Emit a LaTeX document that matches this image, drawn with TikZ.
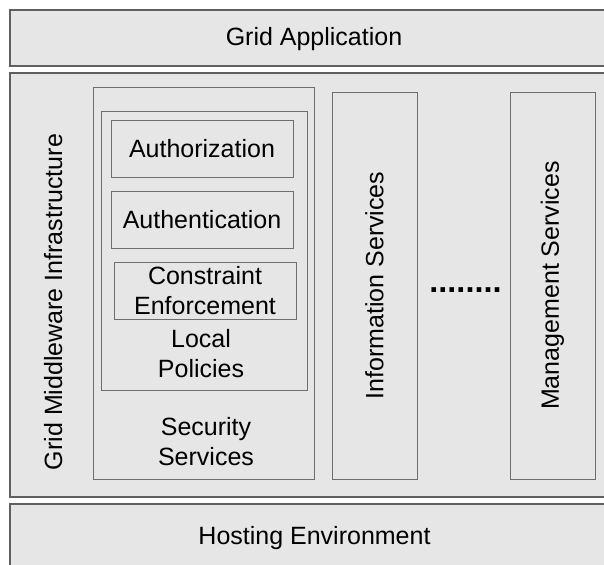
\documentclass[tikz,border=0pt]{standalone}
\usepackage{fontspec}
\setmainfont{Liberation Sans}
\usepackage{xcolor}
\definecolor{bandfill}{RGB}{230,230,230}
\definecolor{edgegray}{RGB}{96,96,96}
\definecolor{boxgray}{RGB}{110,110,110}
\usepackage{tikz}
\usetikzlibrary{positioning}

\tikzset{
  layer/.style={fill=bandfill, draw=edgegray, line width=1.3pt},
  blk/.style={draw=boxgray, line width=0.9pt, inner sep=0pt, align=center, font=\fontsize{25}{30}\selectfont},
  lbl/.style={font=\fontsize{25}{30}\selectfont, align=center, inner sep=0pt},
}

\begin{document}
\begin{tikzpicture}[x=1pt, y=-1pt]
\useasboundingbox[fill=white] (0,0) rectangle (604,564);
\clip (0,0) rectangle (604,564);
% layers
\draw[layer] (10,10) rectangle (640,66);
\draw[layer] (10,73) rectangle (640,497);
\draw[layer] (10,504) rectangle (640,600);
\node[lbl, anchor=base] (app) at (314,46) {Grid Application};
\node[lbl, anchor=base] (host) at (314.5,544) {Hosting Environment};
\node[lbl, rotate=90, anchor=base] (mw) at (62,302) {Grid Middleware Infrastructure};
% security services
\node[blk, minimum width=221, minimum height=392] (sec) at (203.5,283) {};
\node[blk, minimum width=206, minimum height=279] (pol) at (204,250.5) {};
\node[blk, minimum width=182, minimum height=57] (authz) at (202,148.5) {Authorization};
\node[blk, minimum width=182, minimum height=57] (authn) at (202,219.5) {Authentication};
\node[blk, minimum width=182, minimum height=57] (constr) at (205,290.5) {Constraint\\Enforcement};
\node[lbl] (poll) at (201,354) {Local\\Policies};
\node[lbl] (secl) at (206,442) {Security\\Services};
% other services
\node[blk, rotate=90, minimum width=387, minimum height=85] (info) at (374.5,285.5) {Information Services};
\node[blk, rotate=90, minimum width=387, minimum height=85] (mgmt) at (552.5,285.5) {Management Services};
\node[font=\fontsize{32.5}{36}\bfseries\selectfont, anchor=base, inner sep=0pt] (dots) at (465.5,292.5) {........};
\end{tikzpicture}
\end{document}
